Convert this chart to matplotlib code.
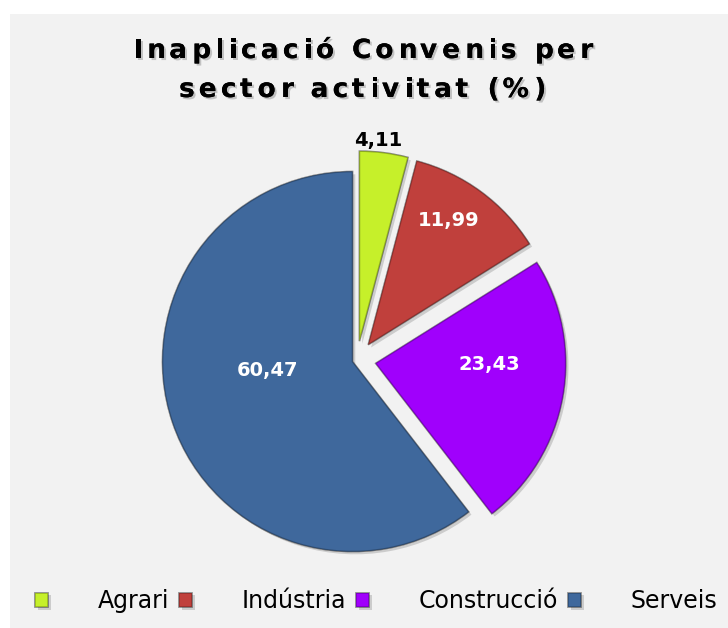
import matplotlib
matplotlib.use("Agg")
import matplotlib.pyplot as plt
import matplotlib.patheffects as pe
import numpy as np
from matplotlib.patches import Rectangle
from matplotlib.font_manager import FontProperties, findfont, get_font

sectors = ['Agrari', 'Indústria', 'Construcció', 'Serveis']
values = [4.11, 11.99, 23.43, 60.47]
value_labels = ['4,11', '11,99', '23,43', '60,47']
colors = ['#c6f02a', '#c0403c', '#a000fc', '#3f689c']
label_colors = ['black', 'white', 'white', 'white']
title_lines = ['Inaplicació Convenis per', 'sector activitat (%)']

W, H = 728, 628
fig = plt.figure(figsize=(W / 100, H / 100), dpi=100)
fig.patch.set_facecolor('white')
ax = fig.add_axes([0, 0, 1, 1])

# gray chart area (white strip on top and left)
ax.add_patch(Rectangle((10, 0), W - 10, H - 14, facecolor='#f2f2f2',
                       edgecolor='none', zorder=0))

R = 190
# pie explode is in data units here, so scale by the radius
explode = [0.1 * R, 0.1 * R, 0.1 * R, 0.025 * R]
wedges, _ = ax.pie(values, explode=explode, colors=colors, startangle=90,
                   counterclock=False, radius=R, center=(357, H - 360),
                   wedgeprops=dict(edgecolor='#00000040', linewidth=1.2))
for w in wedges:
    w.set_zorder(2)
    w.set_path_effects([pe.withSimplePatchShadow(offset=(2, -2), shadow_rgbFace='#777777', alpha=0.3),
                        pe.Normal()])

ax.set_xlim(0, W)
ax.set_ylim(0, H)
ax.set_aspect('equal')
ax.axis('off')

# data labels (distance in radii, small angle nudge in degrees)
label_dist = [1.06, 0.78, 0.6, 0.45]
label_turn = [2, 3.5, 9.5, -13]
for w, txt, col, d, turn in zip(wedges, value_labels, label_colors, label_dist, label_turn):
    mid = np.deg2rad((w.theta1 + w.theta2) / 2 + turn)
    x = w.center[0] + d * w.r * np.cos(mid)
    y = w.center[1] + d * w.r * np.sin(mid)
    ax.text(x, y, txt, ha='center', va='center', color=col, fontsize=14,
            fontweight='bold', family='DejaVu Sans', zorder=5)

# title with extra letter spacing, drawn char by char
title_size = 19
fp = FontProperties(family='DejaVu Sans', weight='bold', size=title_size)
font = get_font(findfont(fp))
font.set_size(title_size, 100)


def advances(line):
    return [font.load_char(ord(ch)).linearHoriAdvance / 65536 for ch in line]


# spacing chosen so the first line is ~460 px wide like the original
adv0 = advances(title_lines[0])
spacing = (460 - sum(adv0)) / (len(title_lines[0]) - 1)
shadow = [pe.withSimplePatchShadow(offset=(1.5, -1.5), shadow_rgbFace='#555555', alpha=0.3),
          pe.Normal()]
for line, base in zip(title_lines, [H - 58, H - 97]):
    advs = advances(line)
    total = sum(advs) + spacing * (len(line) - 1)
    pen = 361 - total / 2
    for ch, a in zip(line, advs):
        if ch != ' ':
            g = font.load_char(ord(ch))
            ax.text(pen + g.horiBearingX / 64, base, ch, ha='left', va='baseline',
                    fontproperties=fp, color='black', zorder=5, path_effects=shadow)
        pen += a + spacing

leg = ax.legend(wedges, sectors, loc='center', bbox_to_anchor=(376 / W, 27 / H),
                ncol=4, frameon=False, fontsize=17, handlelength=0.55,
                handleheight=0.55, handletextpad=2.1, columnspacing=0.42)
for t in leg.get_texts():
    t.set_family('DejaVu Sans')

fig.savefig('out.png', dpi=100, facecolor='white')
